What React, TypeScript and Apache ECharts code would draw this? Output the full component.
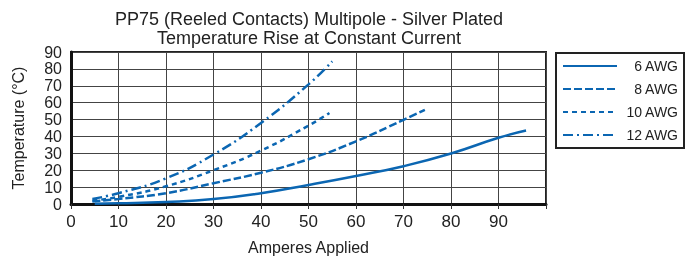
import React, { useEffect, useRef } from "react";
import * as echarts from "echarts";

const titleLines = ["PP75 (Reeled Contacts) Multipole - Silver Plated", "Temperature Rise at Constant Current"];
const xTitle = "Amperes Applied";
const yTitle = "Temperature (°C)";

const seriesNames = ["6 AWG", "8 AWG", "10 AWG", "12 AWG"];
const amps6 = [5, 10, 20, 30, 40, 50, 60, 70, 80, 90, 95.8];
const temp6 = [0.2, 0.4, 1.2, 2.9, 6.4, 11.3, 16.6, 22.4, 29.9, 39.2, 43.5];
const amps8 = [4.5, 10, 20, 30, 40, 50, 60, 70, 74.5];
const temp8 = [1.5, 3, 6.4, 12.3, 18.5, 26.5, 37.1, 49.8, 55.8];
const amps10 = [4.5, 10, 20, 30, 40, 50, 54.4];
const temp10 = [2, 4.2, 10.5, 20, 31.6, 46.4, 53.9];
const amps12 = [4.5, 10, 20, 30, 40, 50, 55];
const temp12 = [3, 6.4, 15.2, 29.3, 48, 70.8, 84.5];

const dashes: (number[] | "solid")[] = ["solid", [8, 3], [5, 4], [10, 4, 2, 4]];

const zip = (xs: number[], ys: number[]) => xs.map((x, i) => [x, ys[i]]);

export default function App() {
  const ref = useRef<HTMLDivElement>(null);
  useEffect(() => {
    if (!ref.current) return;
    const chart = echarts.init(ref.current, undefined, { renderer: "svg" });
    const color = "#0b66b2";
    const datasets = [zip(amps6, temp6), zip(amps8, temp8), zip(amps10, temp10), zip(amps12, temp12)];
    chart.setOption({
      animation: false,
      textStyle: { fontFamily: "Liberation Sans, Arial, sans-serif" },
      title: {
        text: titleLines.join("\n"),
        left: 309,
        textAlign: "center",
        top: 10,
        padding: 0,
        textStyle: { fontSize: 18, fontWeight: "normal", color: "#222", lineHeight: 18.5 },
      },
      grid: {
        left: 71,
        top: 52,
        right: 145,
        bottom: 54,
        show: true,
        borderColor: "#222",
        borderWidth: 2,
      },
      legend: {
        orient: "vertical",
        left: 556,
        top: 53,
        padding: [6, 6, 6, 6],
        itemWidth: 54,
        itemHeight: 14,
        itemGap: 9,
        borderColor: "#222",
        borderWidth: 2,
        data: seriesNames,
        itemStyle: { opacity: 0 },
        formatter: (n: string) => `{r|${n}}`,
        textStyle: {
          rich: { r: { width: 56, align: "right", fontSize: 14, color: "#222" } },
        },
      },
      xAxis: {
        type: "value",
        min: 0,
        max: 100,
        interval: 10,
        name: xTitle,
        nameLocation: "middle",
        nameGap: 35,
        nameTextStyle: { fontSize: 16, color: "#222" },
        axisLine: { show: true, lineStyle: { color: "#111", width: 3 } },
        axisTick: { show: true, length: 5, lineStyle: { color: "#333" } },
        axisLabel: {
          fontSize: 17,
          color: "#222",
          margin: 9,
          formatter: (v: number) => (v === 100 ? "" : String(v)),
        },
        splitLine: { show: true, lineStyle: { color: "#444", width: 1 } },
      },
      yAxis: {
        type: "value",
        min: 0,
        max: 90,
        interval: 10,
        name: yTitle,
        nameLocation: "middle",
        nameGap: 45,
        nameTextStyle: { fontSize: 16, color: "#222" },
        axisLine: { show: true, lineStyle: { color: "#111", width: 3 } },
        axisTick: { show: false },
        axisLabel: { fontSize: 16, lineHeight: 14, color: "#222", margin: 9 },
        splitLine: { show: true, lineStyle: { color: "#444", width: 1 } },
      },
      series: seriesNames.map((name, i) => ({
        name,
        type: "line",
        data: datasets[i],
        smooth: true,
        symbol: "none",
        color,
        lineStyle: { color, width: 2.5, type: dashes[i] },
      })),
    });
    return () => chart.dispose();
  }, []);
  return <div ref={ref} style={{ position: "fixed", left: 0, top: 0, width: 691, height: 260 }} />;
}
